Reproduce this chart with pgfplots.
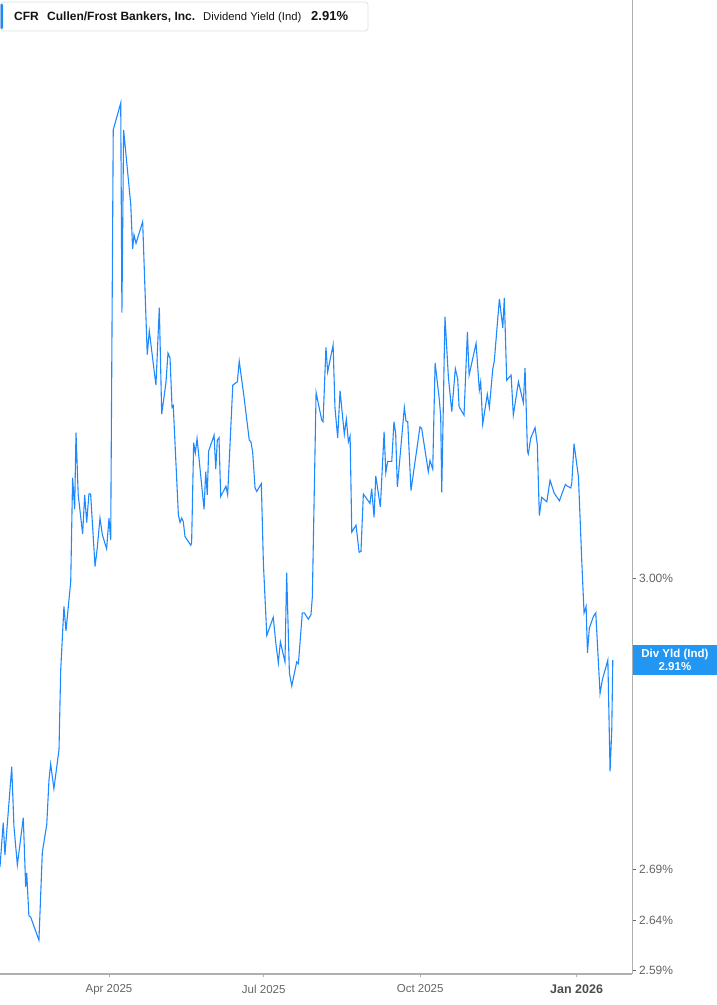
\documentclass[border=0pt]{standalone}
\usepackage{fontspec}
\setmainfont{Liberation Sans}
\usepackage{pgfplots}
\pgfplotsset{compat=1.18}
\definecolor{lineblue}{RGB}{30,136,255}
\definecolor{boxblue}{RGB}{33,150,243}
\definecolor{axisgray}{RGB}{175,175,175}
\definecolor{labelgray}{RGB}{100,100,100}
\definecolor{legtext}{RGB}{20,20,20}

% x: days from 1 Apr 2025, y: dividend yield in %
\begin{document}
\begin{tikzpicture}[x=1pt,y=1pt]
\path[use as bounding box] (0,0) rectangle (717,1005);
\begin{axis}[
  at={(0pt,31pt)}, anchor=south west,
  scale only axis, width=632pt, height=974pt,
  xmin=-64.1, xmax=307.6,
  ymode=log, ymin=2.587, ymax=3.727,
  axis x line*=bottom, axis y line*=right,
  x axis line style={axisgray, line width=1.6pt},
  y axis line style={axisgray, line width=0.9pt},
  xtick={0,91,183,275},
  xticklabels={Apr 2025,Jul 2025,Oct 2025,{\fontsize{12.5}{14}\selectfont\bfseries\color{black!70}Jan 2026}},
  ytick={2.59,2.64,2.69,3.00},
  yticklabels={2.59\%,2.64\%,2.69\%,3.00\%},
  tick align=outside, major tick length=3.5pt,
  xtick style={axisgray, line width=0.9pt},
  ytick style={black!60, line width=0.8pt},
  xticklabel style={font=\fontsize{11.5}{13}\selectfont, text=labelgray, yshift=-4pt},
  yticklabel style={font=\fontsize{12}{13}\selectfont, text=labelgray},
]
\addplot[lineblue, line width=1.1pt] coordinates {
(-64.1,2.693) (-62.2,2.738) (-61.2,2.705) (-57.2,2.796) (-55.9,2.734)
(-53.9,2.695) (-50.4,2.743) (-49.0,2.673) (-48.4,2.687) (-47.1,2.644)
(-46.1,2.643) (-41.2,2.620) (-39.2,2.708) (-36.6,2.736) (-35.3,2.782)
(-34.3,2.799) (-32.4,2.773) (-29.4,2.814) (-28.4,2.899) (-26.5,2.969)
(-25.3,2.942) (-22.5,2.997) (-21.4,3.116) (-20.2,3.079) (-19.4,3.169)
(-18.1,3.096) (-15.5,3.051) (-14.3,3.096) (-13.1,3.064) (-11.8,3.097)
(-10.8,3.097) (-8.2,3.014) (-6.9,3.035) (-5.3,3.069) (-3.9,3.050)
(-1.4,3.034) (0.0,3.069) (1.0,3.044) (2.5,3.550) (6.9,3.586)
(7.6,3.315) (8.6,3.550) (12.8,3.452) (13.9,3.395) (14.7,3.413)
(15.9,3.402) (19.8,3.430) (22.5,3.263) (23.7,3.292) (27.6,3.226)
(29.6,3.321) (31.0,3.191) (33.5,3.229) (34.7,3.265) (35.9,3.259)
(37.1,3.199) (37.8,3.201) (40.8,3.073) (41.8,3.064) (42.8,3.069)
(43.7,3.065) (44.7,3.048) (48.1,3.038) (48.6,3.041) (49.8,3.157)
(50.8,3.145) (51.8,3.162) (55.9,3.079) (56.9,3.123) (57.8,3.096)
(58.6,3.147) (61.8,3.166) (62.8,3.126) (63.7,3.160) (64.7,3.163)
(65.7,3.094) (68.8,3.106) (69.8,3.096) (72.8,3.226) (75.5,3.230)
(76.6,3.255) (79.4,3.212) (82.5,3.160) (83.5,3.158) (84.5,3.146)
(85.9,3.104) (86.9,3.100) (89.6,3.109) (90.8,3.018) (92.8,2.937)
(96.6,2.957) (98.1,2.929) (99.6,2.907) (100.8,2.930) (103.5,2.908)
(104.5,3.007) (106.1,2.896) (107.5,2.882) (110.4,2.908) (111.4,2.906)
(113.7,2.962) (114.9,2.962) (117.2,2.955) (118.8,2.960) (119.6,2.980)
(121.8,3.217) (125.1,3.184) (125.9,3.182) (127.6,3.272) (128.6,3.242)
(131.8,3.275) (132.9,3.199) (134.5,3.163) (135.9,3.219) (138.4,3.167)
(139.6,3.185) (140.8,3.158) (141.8,3.165) (142.8,3.053) (145.3,3.061)
(147.1,3.030) (148.2,3.031) (149.6,3.097) (153.5,3.086) (154.5,3.103)
(155.9,3.070) (156.9,3.118) (159.6,3.082) (161.8,3.170) (162.8,3.122)
(163.9,3.135) (166.3,3.135) (167.6,3.182) (168.6,3.168) (169.6,3.105)
(173.7,3.199) (174.7,3.183) (175.7,3.182) (177.6,3.101) (182.9,3.176)
(183.9,3.174) (187.8,3.123) (188.8,3.136) (190.4,3.126) (191.8,3.253)
(194.3,3.208) (195.1,3.188) (195.7,3.099) (197.6,3.310) (199.6,3.236)
(201.6,3.194) (203.7,3.246) (205.1,3.233) (205.9,3.200) (208.8,3.190)
(210.8,3.291) (211.8,3.238) (215.9,3.277) (217.8,3.220) (218.6,3.230)
(219.8,3.179) (222.5,3.215) (223.7,3.199) (225.7,3.245) (226.6,3.255)
(229.6,3.332) (231.6,3.296) (232.5,3.333) (233.9,3.232) (236.5,3.238)
(237.8,3.190) (240.8,3.230) (243.7,3.205) (244.7,3.247) (246.1,3.147)
(246.6,3.144) (248.1,3.163) (250.6,3.175) (251.9,3.155) (253.1,3.072)
(254.5,3.093) (257.5,3.088) (259.4,3.113) (261.8,3.098) (264.9,3.089)
(268.4,3.108) (269.6,3.106) (271.6,3.104) (272.2,3.110) (273.5,3.156)
(276.1,3.117) (278.1,3.018) (279.4,2.962) (280.6,2.969) (281.4,2.918)
(282.5,2.945) (284.9,2.958) (286.3,2.962) (288.8,2.874) (290.2,2.889)
(293.4,2.910) (294.7,2.791) (295.7,2.835) (296.3,2.910)
};
\coordinate (lastval) at (axis cs:307.6,2.91);
\end{axis}
% current value tag on the right axis
\node[fill=boxblue, text=white, anchor=west, inner sep=0pt,
      minimum width=84.5pt, minimum height=30pt, align=center,
      font=\bfseries\fontsize{11.5}{12.5}\selectfont] at ([xshift=0.5pt]lastval)
      {Div Yld (Ind)\\2.91\%};
% legend box at the top left
\draw[draw=black!12, fill=white, rounded corners=3pt, line width=0.8pt]
  (0.5,974) rectangle (368,1003);
\fill[lineblue, rounded corners=1pt] (0.5,976) rectangle (3,1001);
\begin{scope}[every node/.style={anchor=base west, inner sep=0pt,
    text=legtext, font=\fontsize{12}{13}\selectfont}]
\node at (14,984) {\bfseries CFR};
\node at (47,984) {\bfseries Cullen/Frost Bankers, Inc.};
\node at (203,984) {\fontsize{11.3}{13}\selectfont Dividend Yield (Ind)};
\node at (311,984) {\fontsize{13}{14}\selectfont\bfseries 2.91\%};
\end{scope}
\end{tikzpicture}
\end{document}
